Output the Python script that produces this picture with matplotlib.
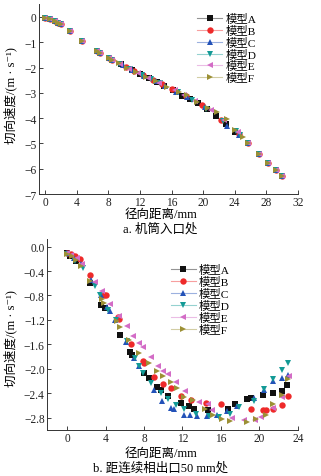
#!/usr/bin/env python3
"""
切向速度 - 径向距离 对比图 (机筒入口处 / 距连续相出口50 mm处)
"""
import matplotlib
matplotlib.use('Agg')
import matplotlib.pyplot as plt
import matplotlib.colors as mcolors
from matplotlib.lines import Line2D

plt.rcParams['font.family'] = ['Liberation Serif', 'Noto Sans CJK SC', 'DejaVu Serif']
plt.rcParams['axes.unicode_minus'] = True

# 模型名称, 颜色, 标记
models = ['模型A', '模型B', '模型C', '模型D', '模型E', '模型F']
colors = ['#111111', '#ee2a2a', '#2352b8', '#139a96', '#d36cc6', '#9c9035']
markers = ['s', 'o', '^', 'v', '<', '>']

# ---- a. 机筒入口处 ----
a_x = {
    '模型A': [0, 0.6, 1.2, 1.6, 2.0, 3.1, 4.7, 6.6, 6.9, 8.1, 8.4, 9.6, 11.0, 12.0, 13.2, 14.2, 15.1,
            16.2, 17.3, 18.3, 19.3, 20.5, 21.6, 22.9, 24.0, 25.7, 27.1, 28.2, 29.2, 30.0],
    '模型B': [0, 0.6, 1.2, 1.6, 2.0, 3.1, 4.7, 6.6, 6.9, 8.1, 8.4, 10.2, 11.3, 12.4, 13.6, 14.8, 16.0,
            17.8, 19.8, 22.3, 24.5, 25.7, 27.1, 28.2, 29.2, 30.0],
    '模型C': [0, 0.6, 1.2, 1.6, 2.0, 3.1, 4.7, 6.6, 6.9, 8.1, 8.4, 9.8, 11.0, 12.5, 14.0, 15.2, 16.6,
            18.0, 20.2, 23.0, 24.6, 25.7, 27.1, 28.2, 29.2, 30.0],
    '模型D': [0, 0.6, 1.2, 1.6, 2.0, 3.1, 4.7, 6.6, 6.9, 8.1, 8.4, 9.4, 10.8, 12.2, 13.4, 14.6, 16.8,
            18.6, 20.4, 22.5, 24.2, 24.7, 25.7, 27.1, 28.2, 29.2, 30.0],
    '模型E': [0, 0.6, 1.2, 1.6, 2.0, 3.1, 4.7, 6.6, 6.9, 8.1, 8.4, 9.5, 10.6, 11.8, 13.0, 14.4, 16.4,
            17.6, 19.0, 21.0, 22.7, 24.4, 25.7, 27.1, 28.2, 29.2, 30.0],
    '模型F': [0, 0.6, 1.2, 1.6, 2.0, 3.1, 4.7, 6.6, 6.9, 8.1, 8.4, 9.3, 10.4, 11.5, 12.8, 14.0, 15.4,
            16.9, 17.9, 19.2, 20.6, 21.8, 23.0, 24.0, 25.0, 25.7, 27.1, 28.2, 29.2, 30.0],
}
a_v = {
    '模型A': [-0.04, -0.07, -0.17, -0.24, -0.30, -0.55, -0.96, -1.36, -1.41, -1.62, -1.69, -1.88, -2.10,
            -2.25, -2.42, -2.57, -2.72, -2.88, -3.12, -3.25, -3.40, -3.62, -3.92, -4.25, -4.55,
            -4.97, -5.42, -5.76, -6.05, -6.27],
    '模型B': [-0.04, -0.07, -0.17, -0.24, -0.30, -0.55, -0.96, -1.36, -1.41, -1.62, -1.69, -1.97, -2.13,
            -2.30, -2.48, -2.65, -2.85, -3.14, -3.48, -4.08, -4.62, -4.97, -5.42, -5.76, -6.05, -6.27],
    '模型C': [-0.04, -0.07, -0.17, -0.24, -0.30, -0.55, -0.96, -1.36, -1.41, -1.62, -1.69, -1.90, -2.10,
            -2.32, -2.55, -2.72, -2.95, -3.17, -3.55, -4.30, -4.65, -4.97, -5.42, -5.76, -6.05, -6.27],
    '模型D': [-0.04, -0.07, -0.17, -0.24, -0.30, -0.55, -0.96, -1.36, -1.41, -1.62, -1.69, -1.85, -2.07,
            -2.28, -2.45, -2.62, -2.98, -3.27, -3.65, -4.12, -4.50, -4.65, -4.97, -5.42, -5.76,
            -6.05, -6.27],
    '模型E': [-0.04, -0.07, -0.17, -0.24, -0.30, -0.55, -0.96, -1.36, -1.41, -1.62, -1.69, -1.86, -2.05,
            -2.22, -2.40, -2.60, -2.90, -3.10, -3.32, -3.68, -4.08, -4.55, -4.97, -5.42, -5.76,
            -6.05, -6.27],
    '模型F': [-0.04, -0.07, -0.17, -0.24, -0.30, -0.55, -0.96, -1.36, -1.41, -1.62, -1.69, -1.84, -2.02,
            -2.18, -2.37, -2.55, -2.75, -2.95, -3.08, -3.35, -3.58, -3.75, -4.05, -4.45, -4.75,
            -4.97, -5.42, -5.76, -6.05, -6.27],
}

# ---- b. 距连续相出口50 mm处 ----
b_x = {
    '模型A': [0, 0.35, 0.9, 2.35, 3.56, 3.9, 5.5, 6.5, 6.8, 8.0, 8.5, 9.4, 9.8, 10.5, 11.8, 12.7, 13.25,
            14.7, 16.7, 17.5, 18.7, 19.1, 20.4, 21.4, 22.3, 22.9],
    '模型B': [0, 0.45, 0.87, 1.3, 2.4, 3.8, 4.0, 5.3, 5.35, 6.6, 7.85, 8.0, 9.0, 10.0, 10.8, 11.8, 12.9,
            14.4, 16.0, 19.1, 20.4, 20.7, 21.4, 22.3, 23.0],
    '模型C': [0, 0.75, 1.4, 2.5, 3.5, 4.2, 4.45, 5.0, 6.1, 7.0, 7.45, 9.0, 9.9, 10.8, 11.1, 12.2, 12.8,
            13.5, 14.6, 15.6, 16.6, 17.7, 19.4, 20.5, 21.4, 22.3, 23.0],
    '模型D': [0, 0.87, 1.7, 2.9, 3.45, 4.3, 5.1, 6.2, 7.05, 7.5, 7.9, 8.7, 9.75, 10.5, 11.35, 12.2, 13.4,
            14.8, 15.8, 16.9, 17.9, 19.4, 20.5, 21.4, 22.3, 23.0],
    '模型E': [0, 0.45, 1.0, 1.6, 2.9, 3.6, 4.5, 5.35, 6.2, 6.9, 7.5, 7.9, 8.7, 9.5, 10.0, 10.5, 11.3,
            12.3, 13.7, 14.7, 15.1, 17.1, 18.4, 19.5, 20.2, 21.4, 22.3, 23.1],
    '模型F': [0, 0.5, 0.97, 1.5, 2.4, 3.6, 3.8, 5.2, 5.5, 6.4, 7.5, 8.5, 9.35, 10.0, 10.8, 11.4, 12.2,
            13.1, 14.3, 15.2, 16.1, 16.9, 18.7, 19.6, 20.7, 21.4, 22.3, 23.0],
}
b_v = {
    '模型A': [-0.11, -0.15, -0.23, -0.59, -0.95, -1.00, -1.44, -1.72, -1.78, -2.07, -2.15, -2.30, -2.34,
            -2.44, -2.56, -2.61, -2.65, -2.68, -2.65, -2.57, -2.50, -2.47, -2.42, -2.39, -2.37, -2.27],
    '模型B': [-0.10, -0.12, -0.16, -0.20, -0.47, -0.79, -0.80, -1.16, -1.19, -1.59, -1.87, -1.91, -2.13,
            -2.24, -2.32, -2.45, -2.51, -2.56, -2.58, -2.66, -2.68, -2.68, -2.66, -2.59, -2.44],
    '模型C': [-0.11, -0.19, -0.29, -0.54, -0.80, -0.99, -1.05, -1.20, -1.56, -1.83, -1.96, -2.35, -2.52,
            -2.64, -2.66, -2.76, -2.76, -2.77, -2.77, -2.76, -2.69, -2.60, -2.47, -2.34, -2.20, -2.15, -2.10],
    '模型D': [-0.12, -0.23, -0.35, -0.65, -0.80, -1.04, -1.20, -1.55, -1.83, -1.96, -2.06, -2.23, -2.39,
            -2.49, -2.59, -2.66, -2.73, -2.77, -2.78, -2.73, -2.63, -2.53, -2.33, -2.17, -2.02, -1.91],
    '模型E': [-0.10, -0.13, -0.18, -0.28, -0.58, -0.73, -0.94, -1.13, -1.30, -1.46, -1.57, -1.64, -1.81,
            -1.96, -2.03, -2.08, -2.22, -2.36, -2.54, -2.58, -2.67, -2.81, -2.84, -2.84, -2.79, -2.64,
            -2.46, -2.11],
    '模型F': [-0.12, -0.16, -0.22, -0.32, -0.56, -0.85, -0.93, -1.22, -1.32, -1.53, -1.74, -1.90, -2.04,
            -2.12, -2.22, -2.31, -2.46, -2.51, -2.65, -2.76, -2.82, -2.85, -2.87, -2.82, -2.76, -2.58,
            -2.43, -2.16],
}

top_xticks = [0, 4, 8, 12, 16, 20, 24, 28, 32]
top_yticks = [0, -1, -2, -3, -4, -5, -6, -7]
bot_xticks = [0, 4, 8, 12, 16, 20, 24]
bot_yticks = [0.0, -0.4, -0.8, -1.2, -1.6, -2.0, -2.4, -2.8]

FS = 8.3      # 刻度字号
LFS = 9.0     # 标签字号
GFS = 8.2     # 图例字号
YLABEL = '切向速度/(m · s\u207b\u00b9)'


def lighten(c, f=0.55):
    r, g, b = mcolors.to_rgb(c)
    return (r + (1 - r) * f, g + (1 - g) * f, b + (1 - b) * f)


def style_axes(ax, xticks, yticks, yfmt):
    """坐标轴样式"""
    for s in ['top', 'right']:
        ax.spines[s].set_visible(False)
    for s in ['left', 'bottom']:
        ax.spines[s].set_linewidth(0.7)
        ax.spines[s].set_color('#333333')
    ax.tick_params(direction='in', length=3, width=0.6, labelsize=FS, pad=1.5, colors='#222222')
    ax.set_xticks(xticks)
    ax.set_yticks(yticks)
    ax.set_yticklabels([yfmt(v) for v in yticks])


def plot_panel(ax, xs, vs, legend_loc):
    for name, c, m in zip(models, colors, markers):
        ax.plot(xs[name], vs[name], linestyle='none', marker=m, color=c, markersize=4.6,
                markeredgewidth=0)
    handles = [Line2D([0], [0], color=lighten(c), lw=0.8, marker=m, markersize=4.6,
                      markerfacecolor=c, markeredgewidth=0)
               for c, m in zip(colors, markers)]
    ax.legend(handles, models, loc='upper left', bbox_to_anchor=legend_loc, frameon=False,
              fontsize=GFS, handlelength=2.2, handletextpad=0.3, labelspacing=0.08,
              borderpad=0)


def main():
    fig = plt.figure(figsize=(3.21, 4.77), dpi=100)

    # a. 机筒入口处
    ax1 = fig.add_axes([0.121, 0.591, 0.807, 0.398])
    plot_panel(ax1, a_x, a_v, (0.59, 0.985))
    ax1.set_xlim(-0.8, 32)
    ax1.set_ylim(-7, 0.5)
    style_axes(ax1, top_xticks, top_yticks, lambda v: f'{v:d}'.replace('-', '\u2212'))
    fig.text(0.033, 0.80, YLABEL, rotation=90, fontsize=LFS, ha='center', va='center')
    fig.text(0.5, 0.550, '径向距离/mm', fontsize=LFS, ha='center', va='center')
    fig.text(0.5, 0.520, 'a. 机筒入口处', fontsize=LFS, ha='center', va='center')

    # b. 距连续相出口50 mm处
    ax2 = fig.add_axes([0.146, 0.0964, 0.782, 0.40])
    plot_panel(ax2, b_x, b_v, (0.47, 0.90))
    ax2.set_xlim(-2.1, 24)
    ax2.set_ylim(-3.0, 0.12)
    style_axes(ax2, bot_xticks, bot_yticks, lambda v: f'{v:.1f}'.replace('-', '\u2212'))
    fig.text(0.033, 0.29, YLABEL, rotation=90, fontsize=LFS, ha='center', va='center')
    fig.text(0.5, 0.048, '径向距离/mm', fontsize=LFS, ha='center', va='center')
    fig.text(0.5, 0.019, 'b. 距连续相出口50 mm处', fontsize=LFS, ha='center', va='center')

    fig.savefig('out.png', dpi=100)
    plt.close(fig)


if __name__ == '__main__':
    main()
